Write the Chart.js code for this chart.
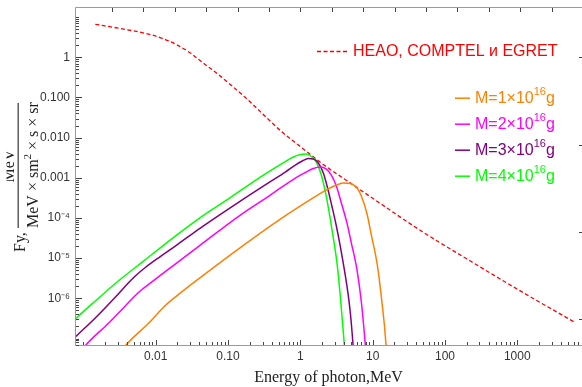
<!DOCTYPE html>
<html><head><meta charset="utf-8">
<script src="https://cdn.jsdelivr.net/npm/chart.js@4/dist/chart.umd.min.js"></script>
<style>html,body{margin:0;padding:0;background:#fff;}#wrap{width:582px;height:387px;}</style>
</head><body><div id="wrap"><canvas id="c" width="582" height="387"></canvas></div>
<script>
// ---- data ----
const xTickValues = [0.01, 0.1, 1, 10, 100, 1000];
const xTickLabels = ['0.01', '0.10', '1', '10', '100', '1000'];
const yTickValues = [1, 0.1, 0.01, 0.001, 1e-4, 1e-5, 1e-6];
const yTickLabels = ['1', '0.100', '0.010', '0.001', '10\u207B\u2074', '10\u207B\u2075', '10\u207B\u2076'];
const xMinorDecades = [0.001, 0.01, 0.1, 1, 10, 100, 1000];
const yMinorDecades = [1e-8, 1e-7, 1e-6, 1e-5, 1e-4, 1e-3, 1e-2, 0.1, 1, 10];
const topTickExponents = [-6, -5, -4, -3, -2, -1, 0, 1, 2, 3, 4, 5, 6, 7, 8];
const rightTickExponents = [0, -5, -10, -15];

const xTitle = 'Energy of photon,MeV';
const redLabel = 'HEAO, COMPTEL \u0438 EGRET';
const masses = ['1', '2', '3', '4'];
const massColors = ['#ff8000', '#ff00ff', '#800080', '#00ff00'];

// HEAO, COMPTEL и EGRET
const redE = [0.001462, 0.003236, 0.008414, 0.01358, 0.01991, 0.03013, 0.0455, 0.07345, 0.1184, 0.2034, 0.3463, 0.5289, 1.0, 2.08, 4.916, 9.906, 48.24, 224.5, 993.6, 6028];
const redF = [6.63, 5.21, 3.69, 2.77, 2.02, 1.28, 0.721, 0.373, 0.1823, 0.0771, 0.0308, 0.01505, 0.006018, 0.002145, 7.43e-4, 3.14e-4, 4.61e-5, 8.49e-6, 1.706e-6, 2.62e-7];

// M = 1e16 g
const m1E = [0.003451, 0.003797, 0.007902, 0.01358, 0.01867, 0.04138, 0.148, 0.5289, 1.3747, 2.2174, 3.0488, 3.9332, 4.9158, 6.0842, 6.9777, 8.366, 9.594, 11.505, 13.195, 15.322, 15.97];
const m1F = [5.14e-8, 6.577e-8, 2.362e-7, 6.627e-7, 1.078e-6, 3.298e-6, 1.841e-5, 9.432e-5, 2.884e-4, 4.831e-4, 6.435e-4, 7.427e-4, 7.217e-4, 5.575e-4, 3.526e-4, 1.256e-4, 3.769e-5, 7.44e-6, 1.078e-6, 6.885e-8, 1.643e-8];
// M = 2e16 g
const m2E = [0.000966, 0.001062, 0.00221, 0.003797, 0.0049, 0.00632, 0.008419, 0.01867, 0.04138, 0.148, 0.3847, 0.8527, 1.1727, 1.513, 1.8905, 2.2888, 2.684, 3.1477, 3.6912, 4.4259, 5.0749, 6.0842, 6.9777, 7.925, 8.4472];
const m2F = [5.14e-8, 6.577e-8, 2.362e-7, 6.44e-7, 1.048e-6, 1.611e-6, 2.406e-6, 7.152e-6, 2.125e-5, 1.186e-4, 3.733e-4, 9.892e-4, 1.356e-3, 1.705e-3, 1.858e-3, 1.657e-3, 1.175e-3, 6.253e-4, 2.36e-4, 7.373e-5, 2.381e-5, 5.07e-6, 8.096e-7, 6.885e-8, 1.643e-8];
// M = 3e16 g
const m3E = [0.000702, 0.000773, 0.001461, 0.003039, 0.004178, 0.005222, 0.00718, 0.011577, 0.01867, 0.04138, 0.148, 0.3847, 0.6202, 0.8527, 1.0658, 1.2903, 1.513, 1.7742, 2.0803, 2.3623, 2.7446, 3.1477, 3.5752, 4.4259, 4.9158, 5.358, 5.5845];
const m3F = [9.17e-8, 1.089e-7, 3.236e-7, 1.281e-6, 2.406e-6, 3.594e-6, 5.851e-6, 1.099e-5, 2.007e-5, 5.63e-5, 2.647e-4, 8.094e-4, 1.395e-3, 2.084e-3, 2.621e-3, 3.024e-3, 2.939e-3, 2.337e-3, 1.318e-3, 5.905e-4, 1.909e-4, 6.317e-5, 1.928e-5, 1.947e-6, 4.311e-7, 6.885e-8, 2.188e-8];
// M = 4e16 g
const m4E = [0.000702, 0.000773, 0.001461, 0.003039, 0.006526, 0.01867, 0.04138, 0.1076, 0.2797, 0.451, 0.6202, 0.775, 1.0, 1.2106, 1.4199, 1.6645, 1.9518, 2.2888, 2.7446, 3.2186, 3.5752, 4.0607, 4.3274];
const m4F = [2.576e-7, 3.058e-7, 8.575e-7, 2.699e-6, 8.015e-6, 3.558e-5, 1.028e-4, 3.234e-4, 1.047e-3, 1.806e-3, 2.547e-3, 3.201e-3, 3.804e-3, 3.914e-3, 3.392e-3, 2.475e-3, 1.175e-3, 3.387e-4, 5.021e-5, 7.44e-6, 1.097e-6, 6.885e-8, 1.643e-8];

const xMin = 0.000766, xMax = 7850;
const yMin = 6.9e-8, yMax = 17.9;

// ---- chart ----
const pts = (E, F) => E.map((e, i) => ({x: e, y: F[i]}));
const massSeries = [[m1E, m1F], [m2E, m2F], [m3E, m3F], [m4E, m4F]];

const datasets = massSeries.map((s, i) => ({
  label: 'M=' + masses[i] + '\u00D710\u00B9\u2076g',
  data: pts(s[0], s[1]),
  borderColor: massColors[i],
  borderWidth: 1.5,
  pointRadius: 0,
  fill: false,
  cubicInterpolationMode: 'monotone'
}));
datasets.push({
  label: redLabel,
  data: pts(redE, redF),
  borderColor: '#ff0000',
  borderWidth: 1.3,
  borderDash: [4, 2.5],
  pointRadius: 0,
  fill: false,
  cubicInterpolationMode: 'monotone'
});

const serif = '"Liberation Serif", "DejaVu Serif", serif';
const sans = '"Liberation Sans", Arial, sans-serif';

const decorPlugin = {
  id: 'decor',
  afterDraw(chart) {
    const {ctx, chartArea: a, scales: {x, y}} = chart;
    ctx.save();
    // frame (left, top, bottom)
    ctx.strokeStyle = '#9a9a9a';
    ctx.lineWidth = 1;
    ctx.beginPath();
    ctx.moveTo(a.left + 0.5, a.bottom + 0.5); ctx.lineTo(a.left + 0.5, a.top + 0.5); ctx.lineTo(a.right, a.top + 0.5);
    ctx.moveTo(a.left + 0.5, a.bottom + 0.5); ctx.lineTo(a.right, a.bottom + 0.5);
    ctx.stroke();
    // ticks
    ctx.strokeStyle = '#444';
    ctx.beginPath();
    const vTick = (px, y0, len) => { px = Math.round(px) + 0.5; ctx.moveTo(px, y0); ctx.lineTo(px, y0 + len); };
    const hTick = (py, x0, len) => { py = Math.round(py) + 0.5; ctx.moveTo(x0, py); ctx.lineTo(x0 + len, py); };
    xMinorDecades.forEach(d => {
      for (let m = 1; m <= 9; m++) {
        const v = d * m;
        if (v < xMin || v > xMax) continue;
        const major = m === 1 && xTickValues.includes(d);
        vTick(x.getPixelForValue(v), a.bottom, major ? -5 : -3);
      }
    });
    yMinorDecades.forEach(d => {
      for (let m = 1; m <= 9; m++) {
        const v = d * m;
        if (v < yMin || v > yMax) continue;
        const major = m === 1 && yTickValues.includes(d);
        hTick(y.getPixelForValue(v), a.left + 1, major ? 6 : 3);
      }
    });
    topTickExponents.forEach(k => vTick(x.getPixelForValue(Math.exp(k)), a.top + 1, 4));
    rightTickExponents.forEach(k => hTick(y.getPixelForValue(Math.exp(k)), a.right, -3));
    ctx.stroke();

    // y-axis title (rotated fraction)
    ctx.fillStyle = '#222';
    ctx.rotate(-Math.PI / 2);
    ctx.textBaseline = 'alphabetic';
    ctx.font = '16px ' + serif;
    ctx.textAlign = 'left';
    ctx.fillText('Fy,', -252, 25);
    ctx.fillRect(-228, 17.6, 125, 1.1);
    // numerator (partly cut by the picture edge in the reference)
    ctx.save();
    ctx.beginPath(); ctx.rect(-300, 6.5, 300, 12); ctx.clip();
    ctx.textAlign = 'center';
    ctx.fillText('MeV', -166, 13.5);
    ctx.restore();
    // denominator
    ctx.textAlign = 'left';
    let u = -228;
    const den1 = 'MeV \u00D7 sm';
    ctx.fillText(den1, u, 38); u += ctx.measureText(den1).width;
    ctx.font = '11px ' + serif;
    ctx.fillText('2', u, 31); u += ctx.measureText('2').width;
    ctx.font = '16px ' + serif;
    ctx.fillText(' \u00D7 s \u00D7 sr', u, 38);
    ctx.restore();

    // legend
    ctx.save();
    ctx.textAlign = 'left';
    ctx.textBaseline = 'alphabetic';
    ctx.strokeStyle = '#ff0000';
    ctx.lineWidth = 1.3;
    ctx.setLineDash([4, 2.5]);
    ctx.beginPath(); ctx.moveTo(317, 51.5); ctx.lineTo(347, 51.5); ctx.stroke();
    ctx.setLineDash([]);
    ctx.fillStyle = '#ff0000';
    ctx.font = '16px ' + sans;
    ctx.fillText(redLabel, 353, 55.7);
    masses.forEach((m, i) => {
      const base = 102.7 + i * 26;
      ctx.strokeStyle = massColors[i];
      ctx.fillStyle = massColors[i];
      ctx.lineWidth = 1.5;
      ctx.beginPath(); ctx.moveTo(455, base - 4.5); ctx.lineTo(470, base - 4.5); ctx.stroke();
      let xx = 475;
      ctx.font = '16px ' + sans;
      const t1 = 'M=' + m + '\u00D710';
      ctx.fillText(t1, xx, base); xx += ctx.measureText(t1).width;
      ctx.font = '11px ' + sans;
      ctx.fillText('16', xx, base - 7.5); xx += ctx.measureText('16').width;
      ctx.font = '16px ' + sans;
      ctx.fillText('g', xx, base);
    });
    ctx.restore();
  }
};

new Chart(document.getElementById('c'), {
  type: 'line',
  data: {datasets},
  options: {
    responsive: false,
    animation: false,
    devicePixelRatio: 1,
    layout: {padding: {left: 0, right: 0, top: 7, bottom: 0}},
    plugins: {legend: {display: false}, tooltip: {enabled: false}},
    elements: {point: {radius: 0}},
    scales: {
      x: {
        type: 'logarithmic', position: 'bottom', min: xMin, max: xMax, bounds: 'data',
        afterFit(s) { s.height = 42; s.paddingLeft = 0; s.paddingRight = 0; },
        afterBuildTicks(s) { s.ticks = xTickValues.map(v => ({value: v})); },
        grid: {display: false, drawTicks: false},
        border: {display: false},
        ticks: {autoSkip: false, maxRotation: 0, minRotation: 0, padding: 4, color: '#333',
                font: {family: sans, size: 12}, callback: (v, i) => xTickLabels[i]},
        title: {display: true, text: xTitle, color: '#222', font: {family: serif, size: 16}, padding: 0}
      },
      y: {
        type: 'logarithmic', position: 'left', min: yMin, max: yMax, bounds: 'data',
        afterFit(s) { s.width = 75; s.paddingTop = 0; s.paddingBottom = 0; },
        afterBuildTicks(s) { s.ticks = yTickValues.map(v => ({value: v})); },
        grid: {display: false, drawTicks: false},
        border: {display: false},
        ticks: {autoSkip: false, padding: 5, color: '#333',
                font: {family: sans, size: 12}, callback: (v, i) => yTickLabels[i]}
      }
    }
  },
  plugins: [decorPlugin]
});
</script>
</body></html>
